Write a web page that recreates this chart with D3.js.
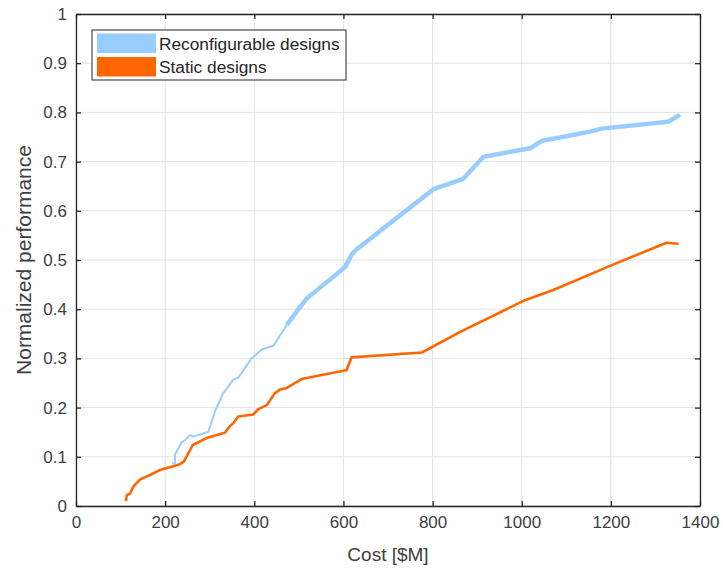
<!DOCTYPE html>
<html lang="en">
<head>
<meta charset="UTF-8" />
<title>Cost vs normalized performance</title>
<script src="https://d3js.org/d3.v7.min.js"></script>
<style>
  body { margin: 0; background: #fff; }
  text { font-family: "Liberation Sans", Arial, sans-serif; }
</style>
</head>
<body>
<script>

// data
var reconfigCost = [215, 222, 222, 237, 245, 256, 263, 297, 312, 323, 330, 353, 364, 394, 417, 443, 473, 499, 518, 604, 619, 630, 757, 802, 869, 914, 1019, 1045, 1153, 1179, 1329, 1355];
var reconfigPerf = [0.087, 0.087, 0.104, 0.130, 0.134, 0.144, 0.141, 0.151, 0.193, 0.215, 0.229, 0.257, 0.261, 0.300, 0.318, 0.326, 0.368, 0.400, 0.422, 0.486, 0.512, 0.522, 0.612, 0.644, 0.665, 0.710, 0.727, 0.742, 0.761, 0.767, 0.781, 0.795];

var staticCost = [112, 114, 121, 129, 144, 166, 188, 218, 233, 242, 262, 293, 334, 346, 353, 364, 398, 409, 428, 446, 458, 473, 506, 600, 607, 618, 776, 862, 1004, 1071, 1206, 1325, 1352];
var staticPerf = [0.010, 0.022, 0.025, 0.040, 0.054, 0.063, 0.073, 0.081, 0.085, 0.090, 0.124, 0.138, 0.149, 0.163, 0.168, 0.182, 0.186, 0.197, 0.205, 0.229, 0.237, 0.240, 0.258, 0.275, 0.276, 0.302, 0.312, 0.354, 0.417, 0.439, 0.491, 0.535, 0.533];

var xTicks = [0, 200, 400, 600, 800, 1000, 1200, 1400];
var yTicks = [0, 0.1, 0.2, 0.3, 0.4, 0.5, 0.6, 0.7, 0.8, 0.9, 1];
var seriesNames = ["Reconfigurable designs", "Static designs"];
var seriesColors = ["#99ccff", "#ff6600"];

var W = 723, H = 570;
var margin = {top: 14, right: 23, bottom: 64, left: 76};

var svg = d3.select("body").append("svg")
  .attr("width", W)
  .attr("height", H);

var x = d3.scaleLinear().domain([0, 1400]).range([margin.left, W - margin.right]);
var y = d3.scaleLinear().domain([0, 1]).range([H - margin.bottom, margin.top]);

// grid
svg.append("g").selectAll("line").data(xTicks).enter().append("line")
  .attr("x1", function(d) { return x(d); }).attr("x2", function(d) { return x(d); })
  .attr("y1", y(0)).attr("y2", y(1))
  .attr("stroke", "#e3e3e3").attr("stroke-width", 1);
svg.append("g").selectAll("line").data(yTicks).enter().append("line")
  .attr("y1", function(d) { return y(d); }).attr("y2", function(d) { return y(d); })
  .attr("x1", x(0)).attr("x2", x(1400))
  .attr("stroke", "#e3e3e3").attr("stroke-width", 1);

// axes (ticks pointing inward, box on)
var axColor = "#262626";
svg.append("g")
  .attr("transform", "translate(0," + y(0) + ")")
  .call(d3.axisBottom(x).tickValues(xTicks).tickFormat(d3.format("d")).tickSizeInner(-5).tickSizeOuter(0).tickPadding(10));
svg.append("g")
  .attr("transform", "translate(" + x(0) + ",0)")
  .call(d3.axisLeft(y).tickValues(yTicks).tickFormat(d3.format("")).tickSizeInner(-5).tickSizeOuter(0).tickPadding(9));
svg.append("g")
  .attr("transform", "translate(0," + y(1) + ")")
  .call(d3.axisTop(x).tickValues(xTicks).tickSizeInner(-5).tickSizeOuter(0).tickFormat(""));
svg.append("g")
  .attr("transform", "translate(" + x(1400) + ",0)")
  .call(d3.axisRight(y).tickValues(yTicks).tickSizeInner(-5).tickSizeOuter(0).tickFormat(""));

svg.selectAll(".domain").attr("stroke", axColor).attr("stroke-width", 1.3);
svg.selectAll(".tick line").attr("stroke", axColor).attr("stroke-width", 1.3);
svg.selectAll(".tick text")
  .attr("fill", "#404040")
  .style("font-size", "17px")
  .style("font-family", "'Liberation Sans', Arial, sans-serif");

// axis labels
svg.append("text")
  .attr("x", (x(0) + x(1400)) / 2)
  .attr("y", 561)
  .attr("text-anchor", "middle")
  .attr("fill", "#404040")
  .style("font-size", "19px")
  .text("Cost [$M]");
svg.append("text")
  .attr("transform", "translate(31," + ((y(0) + y(1)) / 2) + ") rotate(-90)")
  .attr("text-anchor", "middle")
  .attr("fill", "#404040")
  .style("font-size", "21px")
  .text("Normalized performance");

// lines
var line = d3.line()
  .x(function(d) { return x(d[0]); })
  .y(function(d) { return y(d[1]); });

var reconfig = d3.zip(reconfigCost, reconfigPerf);
var stat = d3.zip(staticCost, staticPerf);

svg.append("path").datum(reconfig)
  .attr("d", line)
  .attr("fill", "none")
  .attr("stroke", seriesColors[0])
  .attr("stroke-width", 2)
  .attr("stroke-linejoin", "round");
// upper part of the reconfigurable front is drawn heavier in the original
svg.append("path").datum(reconfig.filter(function(d) { return d[0] >= 470; }))
  .attr("d", line)
  .attr("fill", "none")
  .attr("stroke", seriesColors[0])
  .attr("stroke-width", 4.5)
  .attr("stroke-linejoin", "round");

svg.append("path").datum(stat)
  .attr("d", line)
  .attr("fill", "none")
  .attr("stroke", seriesColors[1])
  .attr("stroke-width", 2.6)
  .attr("stroke-linejoin", "round");

// legend
var lg = svg.append("g").attr("transform", "translate(92,30)");
lg.append("rect")
  .attr("width", 254).attr("height", 50)
  .attr("fill", "#fff").attr("stroke", axColor).attr("stroke-width", 1);
lg.selectAll(".sw").data(seriesNames).enter().append("rect")
  .attr("x", 5).attr("y", function(d, i) { return 3.5 + i * 23.5; })
  .attr("width", 59).attr("height", 19.5)
  .attr("fill", function(d, i) { return seriesColors[i]; });
lg.selectAll(".lt").data(seriesNames).enter().append("text")
  .attr("x", 67).attr("y", function(d, i) { return 19.5 + i * 23.5; })
  .attr("fill", "#262626")
  .style("font-size", "17.3px")
  .text(function(d) { return d; });

</script>
</body>
</html>
